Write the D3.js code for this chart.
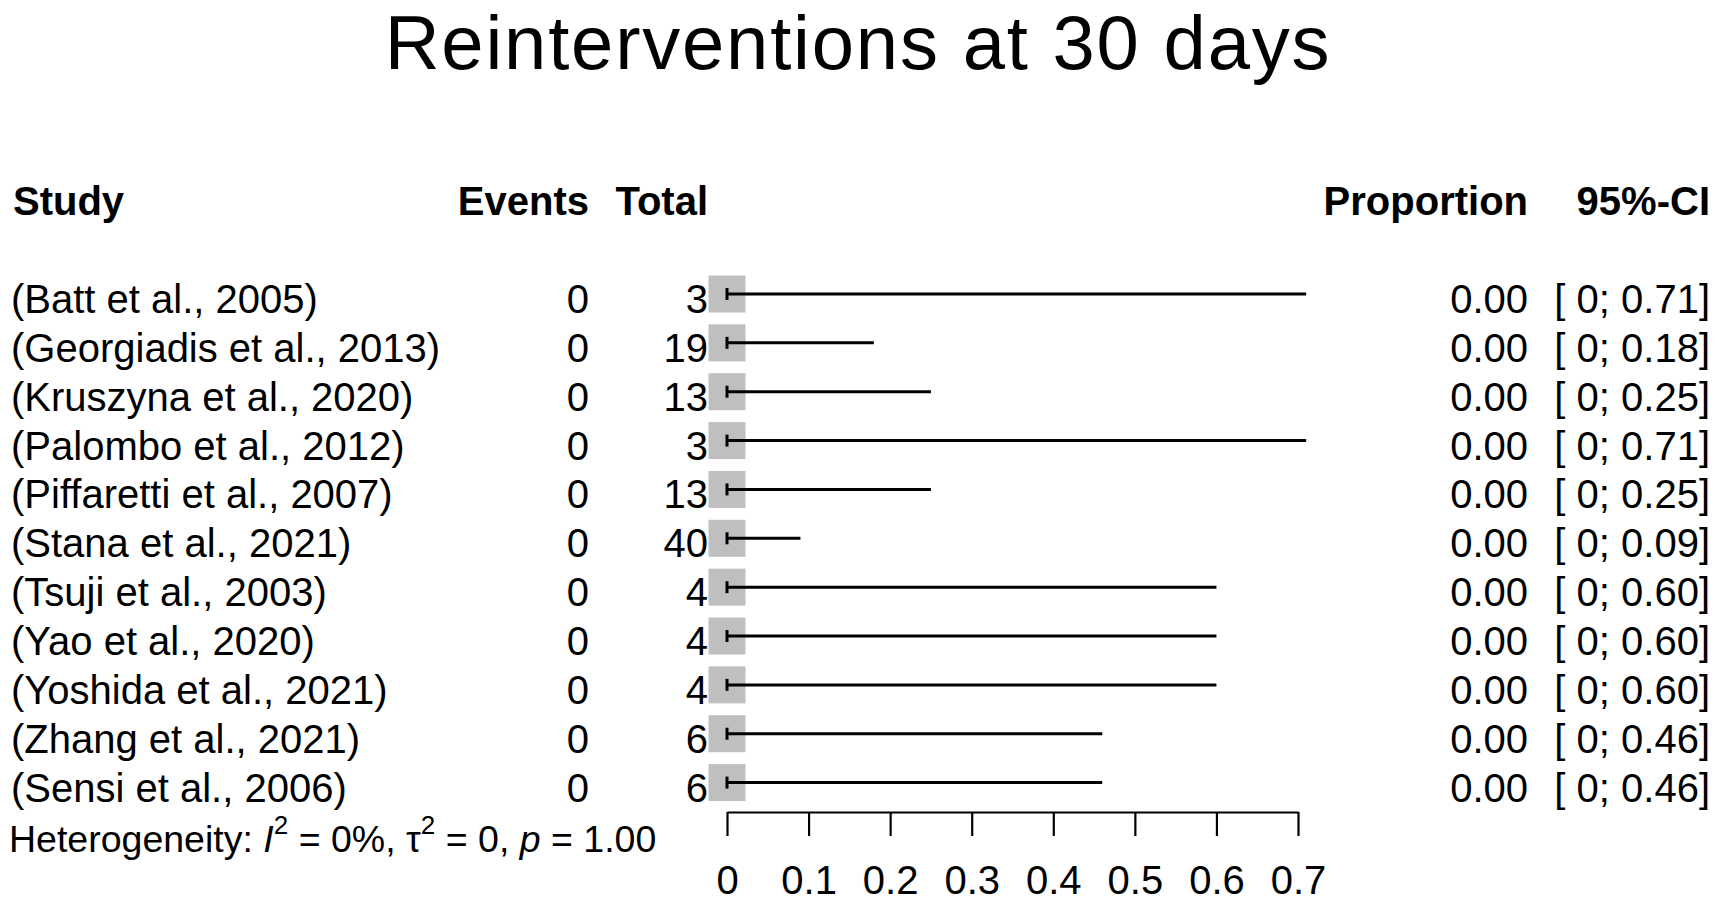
<!DOCTYPE html>
<html>
<head>
<meta charset="utf-8">
<script src="https://cdn.jsdelivr.net/npm/d3@7"></script>
<style>
  html, body { margin: 0; padding: 0; background: #fff; }
  svg { display: block; font-family: "Liberation Sans", Arial, sans-serif; }
</style>
</head>
<body>
<div class="canvas-container"></div>
<script>
const studies = [
  "(Batt et al., 2005)",
  "(Georgiadis et al., 2013)",
  "(Kruszyna et al., 2020)",
  "(Palombo et al., 2012)",
  "(Piffaretti et al., 2007)",
  "(Stana et al., 2021)",
  "(Tsuji et al., 2003)",
  "(Yao et al., 2020)",
  "(Yoshida et al., 2021)",
  "(Zhang et al., 2021)",
  "(Sensi et al., 2006)"
]
const events = [0, 0, 0, 0, 0, 0, 0, 0, 0, 0, 0]
const totals = [3, 19, 13, 3, 13, 40, 4, 4, 4, 6, 6]
const proportions = [0, 0, 0, 0, 0, 0, 0, 0, 0, 0, 0]
const lower = [0, 0, 0, 0, 0, 0, 0, 0, 0, 0, 0]
const upper = [0.71, 0.18, 0.25, 0.71, 0.25, 0.09, 0.60, 0.60, 0.60, 0.46, 0.46]
const xTicks = [0, 0.1, 0.2, 0.3, 0.4, 0.5, 0.6, 0.7]

const w = 1721
const h = 908

const svg = d3
  .select(".canvas-container")
  .append("svg")
  .attr("width", w)
  .attr("height", h)

const x = d3.scaleLinear().domain([0, 0.7]).range([727, 1298])
const y = d3.scalePoint().domain(studies).range([294, 782.6])

const rows = studies.map((s, i) => ({
  study: s,
  events: events[i],
  total: totals[i],
  prop: proportions[i],
  lo: lower[i],
  hi: upper[i]
}))

// title
svg.append("text")
  .attr("x", 858)
  .attr("y", 69)
  .attr("text-anchor", "middle")
  .attr("font-size", 76)
  .attr("letter-spacing", 1.8)
  .text("Reinterventions at 30 days")

// column headers
const headers = [
  { t: "Study", x: 13, anchor: "start" },
  { t: "Events", x: 589, anchor: "end" },
  { t: "Total", x: 708, anchor: "end" },
  { t: "Proportion", x: 1528, anchor: "end" },
  { t: "95%-CI", x: 1710, anchor: "end" }
]
svg.selectAll(".header")
  .data(headers)
  .enter()
  .append("text")
  .attr("class", "header")
  .attr("x", d => d.x)
  .attr("y", 215)
  .attr("text-anchor", d => d.anchor)
  .attr("font-size", 40)
  .attr("font-weight", "bold")
  .text(d => d.t)

// study rows
const row = svg.selectAll(".row")
  .data(rows)
  .enter()
  .append("g")
  .attr("class", "row")
  .attr("transform", d => `translate(0,${y(d.study)})`)

const cell = (sel, xPos, anchor, fn) =>
  sel.append("text")
    .attr("x", xPos)
    .attr("y", 19)
    .attr("text-anchor", anchor)
    .attr("font-size", 40)
    .text(fn)

cell(row, 11, "start", d => d.study)
cell(row, 589, "end", d => d.events)
cell(row, 708, "end", d => d.total)
cell(row, 1528, "end", d => d.prop.toFixed(2))
cell(row, 1710, "end", d => `[ ${d.lo}; ${d.hi.toFixed(2)}]`)

// weight squares
row.append("rect")
  .attr("x", d => x(d.prop) - 18.5)
  .attr("y", -18.5)
  .attr("width", 37)
  .attr("height", 37)
  .attr("fill", "#bfbfbf")

// CI lines
row.append("line")
  .attr("x1", d => x(d.lo))
  .attr("x2", d => x(d.hi))
  .attr("stroke", "#000")
  .attr("stroke-width", 3)
row.append("line")
  .attr("x1", d => x(d.lo))
  .attr("x2", d => x(d.lo))
  .attr("y1", -6)
  .attr("y2", 6)
  .attr("stroke", "#000")
  .attr("stroke-width", 3)

// x axis
const axis = svg.append("g")
  .attr("transform", "translate(0,812)")
  .call(
    d3.axisBottom(x)
      .tickValues(xTicks)
      .tickFormat(d3.format("~g"))
      .tickSize(24)
      .tickSizeOuter(0)
      .tickPadding(30)
  )
axis.attr("font-size", 40).attr("font-family", null)
axis.select(".domain").attr("stroke-width", 2.2)
axis.selectAll(".tick line").attr("stroke-width", 2.2)

// heterogeneity
const het = svg.append("text")
  .attr("x", 9)
  .attr("y", 852)
  .attr("font-size", 37.5)
het.append("tspan").text("Heterogeneity: ")
het.append("tspan").attr("font-style", "italic").text("I")
het.append("tspan").attr("font-size", 26).attr("dy", -18).text("2")
het.append("tspan").attr("dy", 18).text(" = 0%, ")
het.append("tspan").text("τ")
het.append("tspan").attr("font-size", 26).attr("dy", -18).text("2")
het.append("tspan").attr("dy", 18).text(" = 0, ")
het.append("tspan").attr("font-style", "italic").text("p")
het.append("tspan").text(" = 1.00")
</script>
</body>
</html>
